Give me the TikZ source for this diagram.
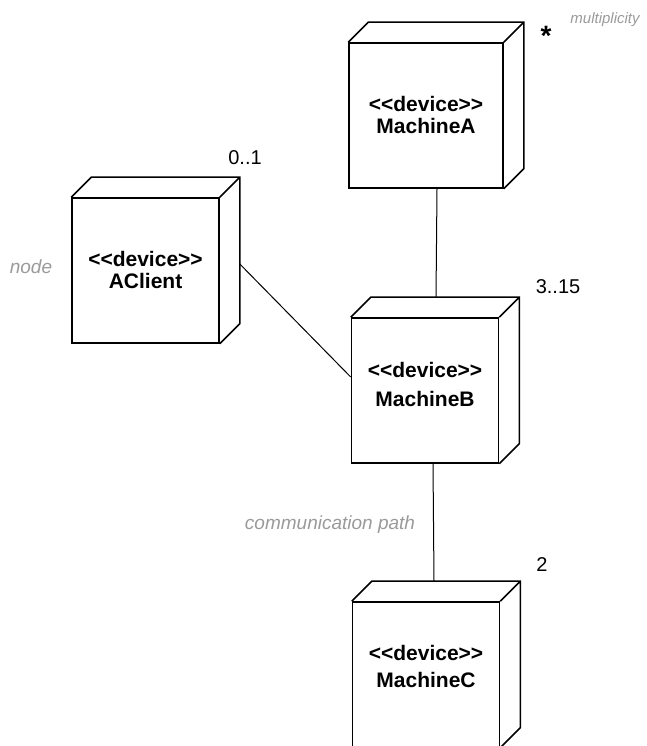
\documentclass[tikz,border=0pt]{standalone}
\usepackage{fontspec}
\setmainfont{Liberation Sans}
\usepackage{tikz}
\usetikzlibrary{calc, positioning}
\definecolor{noteGray}{HTML}{9A9A9A}
\newcommand{\stereotype}[1]{<\kern0pt<#1>\kern0pt>}

\begin{document}
\begin{tikzpicture}[x=1pt, y=1pt,
    device/.style={draw, line width=1.6pt, minimum width=147pt, minimum height=145pt,
        inner sep=0pt, align=center, font=\bfseries\fontsize{21}{22}\selectfont},
    face/.style={line width=1.6pt, line join=miter},
    link/.style={line width=1pt},
    mult/.style={font=\fontsize{20}{24}\selectfont},
    note/.style={noteGray, font=\itshape\fontsize{19}{22}\selectfont}]
    \useasboundingbox (0,0) rectangle (647,746);
    % device nodes
    \node[device] (client) at (145.5,475.5) {\stereotype{device}\\AClient};
    \node[device, minimum width=154pt] (machA) at (426,630.5) {\stereotype{device}\\MachineA};
    \node[device] (machB) at (425,355.5) {\stereotype{device}\\[7pt]MachineB\rule[-12pt]{0pt}{12pt}};
    \node[device] (machC) at (426,71.5) {\stereotype{device}\\[5pt]MachineC\rule[-16pt]{0pt}{16pt}};
    \foreach \n in {client,machA,machB,machC}
        \draw[face] (\n.north west) -- ++(20,20) -| ($(\n.south east)+(20,20)$) -- (\n.south east)
            (\n.north east) -- ++(20,20);
    % communication paths
    \draw[link] ([xshift=11pt]machA.south) -- ([xshift=11pt, yshift=20pt]machB.north);
    \draw[link] ([xshift=8pt]machB.south) -- ([xshift=8pt, yshift=20pt]machC.north);
    \draw[link] ([xshift=20pt, yshift=6.5pt]client.east) -- ([yshift=13.5pt]machB.west);
    % multiplicities and notes
    \node[mult] (multClient) at (245,588) {0..1};
    \node[font=\bfseries\fontsize{28}{28}\selectfont] (multA) at (546,710) {*};
    \node[mult] (multB) at (558,459) {3..15};
    \node[mult] (multC) at (542,181) {2};
    \node[note, font=\itshape\fontsize{15}{18}\selectfont] (multNote) at (605,726) {multiplicity};
    \node[note] (nodeNote) at (31,479) {node};
    \node[note] (pathNote) at (330,221) {communication path};
\end{tikzpicture}
\end{document}
